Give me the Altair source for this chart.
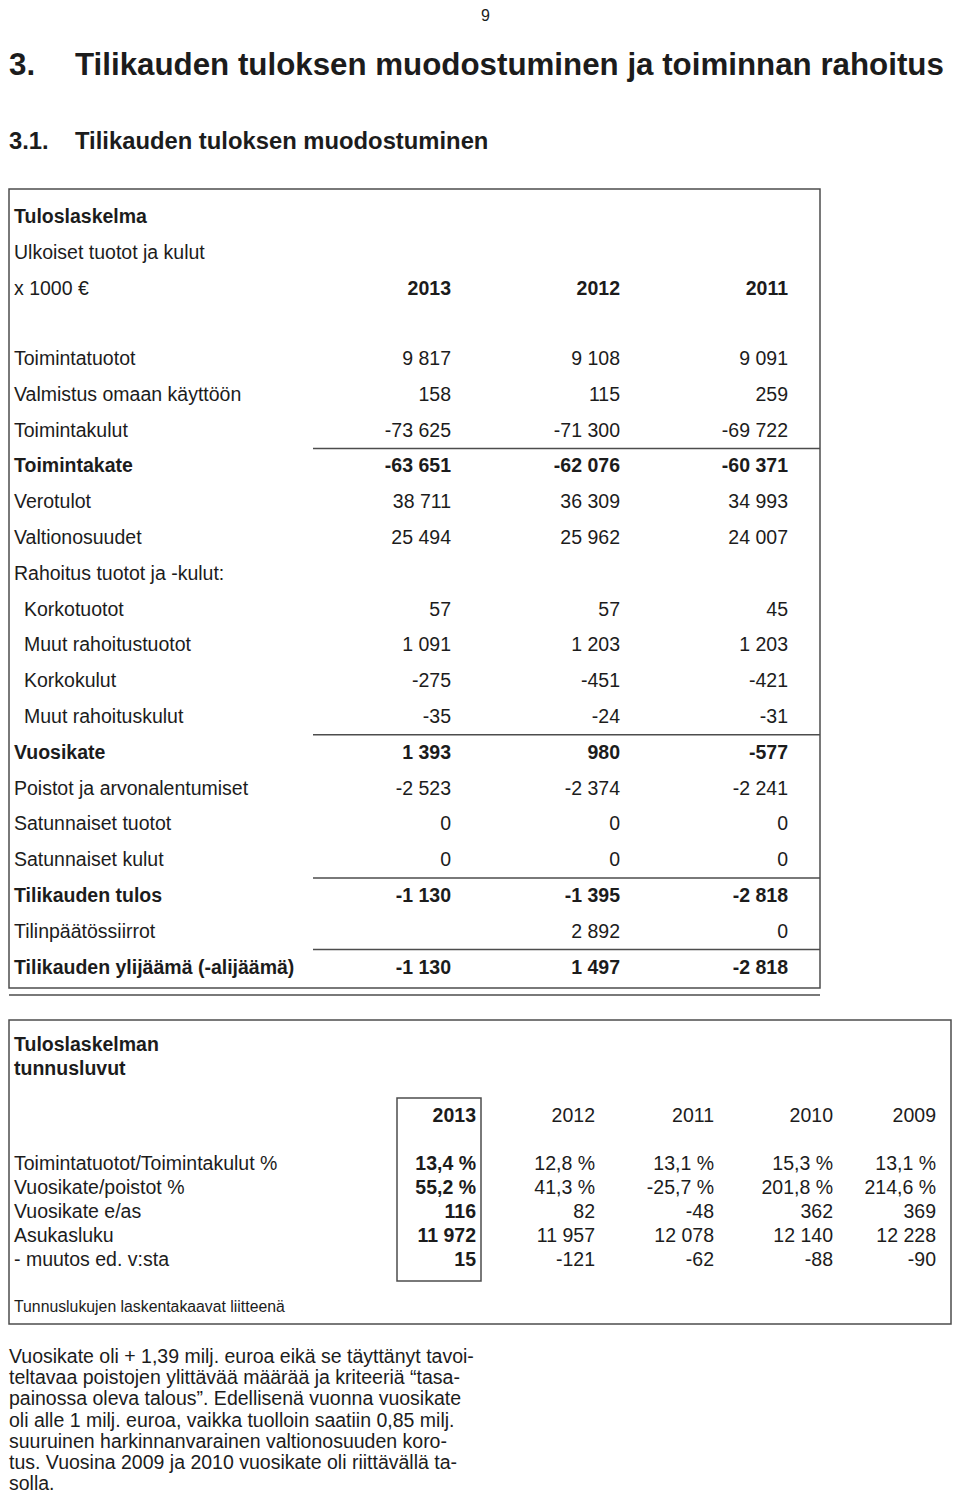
import altair as alt
import pandas as pd

# ---------------- data ----------------
page_no = "9"
title_num = "3."
title_text = "Tilikauden tuloksen muodostuminen ja toiminnan rahoitus"
sub_num = "3.1."
sub_text = "Tilikauden tuloksen muodostuminen"

t1_heads = ["Tuloslaskelma", "Ulkoiset tuotot ja kulut", "x 1000 €"]
t1_years = ["2013", "2012", "2011"]
t1_labels = [
    "Toimintatuotot", "Valmistus omaan käyttöön", "Toimintakulut", "Toimintakate",
    "Verotulot", "Valtionosuudet", "Rahoitus tuotot ja -kulut:", "Korkotuotot",
    "Muut rahoitustuotot", "Korkokulut", "Muut rahoituskulut", "Vuosikate",
    "Poistot ja arvonalentumiset", "Satunnaiset tuotot", "Satunnaiset kulut",
    "Tilikauden tulos", "Tilinpäätössiirrot", "Tilikauden ylijäämä (-alijäämä)",
]
t1_2013 = [9817, 158, -73625, -63651, 38711, 25494, None, 57, 1091, -275, -35,
           1393, -2523, 0, 0, -1130, None, -1130]
t1_2012 = [9108, 115, -71300, -62076, 36309, 25962, None, 57, 1203, -451, -24,
           980, -2374, 0, 0, -1395, 2892, 1497]
t1_2011 = [9091, 259, -69722, -60371, 34993, 24007, None, 45, 1203, -421, -31,
           -577, -2241, 0, 0, -2818, 0, -2818]
t1_bold = ["Toimintakate", "Vuosikate", "Tilikauden tulos", "Tilikauden ylijäämä (-alijäämä)"]
t1_indented = ["Korkotuotot", "Muut rahoitustuotot", "Korkokulut", "Muut rahoituskulut"]

t2_heads = ["Tuloslaskelman", "tunnusluvut"]
t2_years = ["2013", "2012", "2011", "2010", "2009"]
t2_labels = ["Toimintatuotot/Toimintakulut %", "Vuosikate/poistot %", "Vuosikate e/as",
             "Asukasluku", " - muutos ed. v:sta"]
t2_is_pct = [True, True, False, False, False]
t2_2013 = [13.4, 55.2, 116, 11972, 15]
t2_2012 = [12.8, 41.3, 82, 11957, -121]
t2_2011 = [13.1, -25.7, -48, 12078, -62]
t2_2010 = [15.3, 201.8, 362, 12140, -88]
t2_2009 = [13.1, 214.6, 369, 12228, -90]
t2_note = "Tunnuslukujen laskentakaavat liitteenä"

para_lines = [
    "Vuosikate oli + 1,39 milj. euroa eikä se täyttänyt tavoi-",
    "teltavaa poistojen ylittävää määrää ja kriteeriä “tasa-",
    "painossa oleva talous”. Edellisenä vuonna vuosikate",
    "oli alle 1 milj. euroa, vaikka tuolloin saatiin 0,85 milj.",
    "suuruinen harkinnanvarainen valtionosuuden koro-",
    "tus. Vuosina 2009 ja 2010 vuosikate oli riittävällä ta-",
    "solla.",
]

# ---------------- layout ----------------
LEFT = 9
X_LAB, X_IND = 14, 24
T1_COLS = [451, 620, 788]
T1_HEAD_Y = [217, 253, 289]
T1_Y0, T1_STEP = 359, 35.8
T2_COLS = [476, 595, 714, 833, 936]
T2_HEAD_Y = [1045, 1069]
T2_YEAR_Y = 1116
T2_Y0, T2_STEP = 1164, 24
PARA_Y0, PARA_STEP = 1357, 21.2


def fmt_int(v):
    return "" if v is None else f"{v:,}".replace(",", " ")


def fmt_t2(v, pct):
    if pct:
        return f"{v:.1f}".replace(".", ",") + " %"
    return fmt_int(v)


rows = []
rows.append(dict(x=481, y=8, text=page_no, s="page"))
rows.append(dict(x=LEFT, y=66, text=title_num, s="title"))
rows.append(dict(x=75, y=66, text=title_text, s="title"))
rows.append(dict(x=LEFT, y=142, text=sub_num, s="sub"))
rows.append(dict(x=75, y=142, text=sub_text, s="sub"))

# table 1 header
rows.append(dict(x=X_LAB, y=T1_HEAD_Y[0], text=t1_heads[0], s="labB"))
rows.append(dict(x=X_LAB, y=T1_HEAD_Y[1], text=t1_heads[1], s="lab"))
rows.append(dict(x=X_LAB, y=T1_HEAD_Y[2], text=t1_heads[2], s="lab"))
for cx, yr in zip(T1_COLS, t1_years):
    rows.append(dict(x=cx, y=T1_HEAD_Y[2], text=yr, s="valRB"))

t1_cols_vals = [t1_2013, t1_2012, t1_2011]
rule_rows = []
for i, lab in enumerate(t1_labels):
    y = T1_Y0 + i * T1_STEP
    bold = lab in t1_bold
    rows.append(dict(x=X_IND if lab in t1_indented else X_LAB, y=y, text=lab,
                     s="labB" if bold else "lab"))
    for cx, vals in zip(T1_COLS, t1_cols_vals):
        t = fmt_int(vals[i])
        if t:
            rows.append(dict(x=cx, y=y, text=t, s="valRB" if bold else "valR"))
    if bold:
        rule_rows.append(dict(x=313, x2=820, y=y - 18, y2=y - 18))
rule_rows.append(dict(x=LEFT, x2=820, y=995, y2=995))

# table 2
rows.append(dict(x=X_LAB, y=T2_HEAD_Y[0], text=t2_heads[0], s="labB"))
rows.append(dict(x=X_LAB, y=T2_HEAD_Y[1], text=t2_heads[1], s="labB"))
for j, (cx, yr) in enumerate(zip(T2_COLS, t2_years)):
    rows.append(dict(x=cx, y=T2_YEAR_Y, text=yr, s="valRB" if j == 0 else "valR"))
t2_cols_vals = [t2_2013, t2_2012, t2_2011, t2_2010, t2_2009]
for i, lab in enumerate(t2_labels):
    y = T2_Y0 + i * T2_STEP
    rows.append(dict(x=X_LAB, y=y, text=lab, s="lab"))
    for j, (cx, vals) in enumerate(zip(T2_COLS, t2_cols_vals)):
        rows.append(dict(x=cx, y=y, text=fmt_t2(vals[i], t2_is_pct[i]),
                         s="valRB" if j == 0 else "valR"))
rows.append(dict(x=X_LAB, y=1307, text=t2_note, s="foot"))

for k, line in enumerate(para_lines):
    rows.append(dict(x=LEFT, y=PARA_Y0 + k * PARA_STEP, text=line, s="para"))

texts = pd.DataFrame(rows)
rules = pd.DataFrame(rule_rows)
boxes = pd.DataFrame([
    dict(x=LEFT, x2=820, y=189, y2=988),
    dict(x=LEFT, x2=951, y=1020, y2=1324),
    dict(x=397, x2=481, y=1098, y2=1281),
])

# ---------------- chart ----------------
W, H = 944, 1489
XS = alt.Scale(domain=[8, 8 + W], nice=False, zero=False)
YS = alt.Scale(domain=[8, 8 + H], nice=False, zero=False, reverse=True)
INK = "#1c1c1c"
LINE = "#4d4d4d"
FONT = "Liberation Sans"

styles = {
    "page": dict(size=16, fontWeight="normal", align="left", baseline="top"),
    "title": dict(size=31.3, fontWeight="bold", align="left", baseline="middle"),
    "sub": dict(size=23.8, fontWeight="bold", align="left", baseline="middle"),
    "lab": dict(size=19.5, fontWeight="normal", align="left", baseline="middle"),
    "labB": dict(size=19.5, fontWeight="bold", align="left", baseline="middle"),
    "valR": dict(size=19.5, fontWeight="normal", align="right", baseline="middle"),
    "valRB": dict(size=19.5, fontWeight="bold", align="right", baseline="middle"),
    "foot": dict(size=15.8, fontWeight="normal", align="left", baseline="middle"),
    "para": dict(size=19.5, fontWeight="normal", align="left", baseline="middle"),
}

base_text = alt.Chart(texts)
layers = []
for key, st in styles.items():
    layers.append(
        base_text.transform_filter(alt.datum.s == key)
        .mark_text(font=FONT, color=INK, **st)
        .encode(x=alt.X("x:Q", scale=XS, axis=None),
                y=alt.Y("y:Q", scale=YS, axis=None),
                text="text:N")
    )

rule_layer = alt.Chart(rules).mark_rule(color=LINE, strokeWidth=1.5).encode(
    x=alt.X("x:Q", scale=XS, axis=None), x2="x2:Q",
    y=alt.Y("y:Q", scale=YS, axis=None),
)
box_layer = alt.Chart(boxes).mark_rect(filled=False, stroke=LINE, strokeWidth=1.5).encode(
    x=alt.X("x:Q", scale=XS, axis=None), x2="x2:Q",
    y=alt.Y("y:Q", scale=YS, axis=None), y2="y2:Q",
)

chart = alt.layer(box_layer, rule_layer, *layers).properties(
    width=W, height=H, padding=0,
    autosize=alt.AutoSizeParams(type="none"),
    background="white",
).configure_view(stroke=None)

chart.save("out.html", embed_options={"renderer": "svg", "actions": False})
